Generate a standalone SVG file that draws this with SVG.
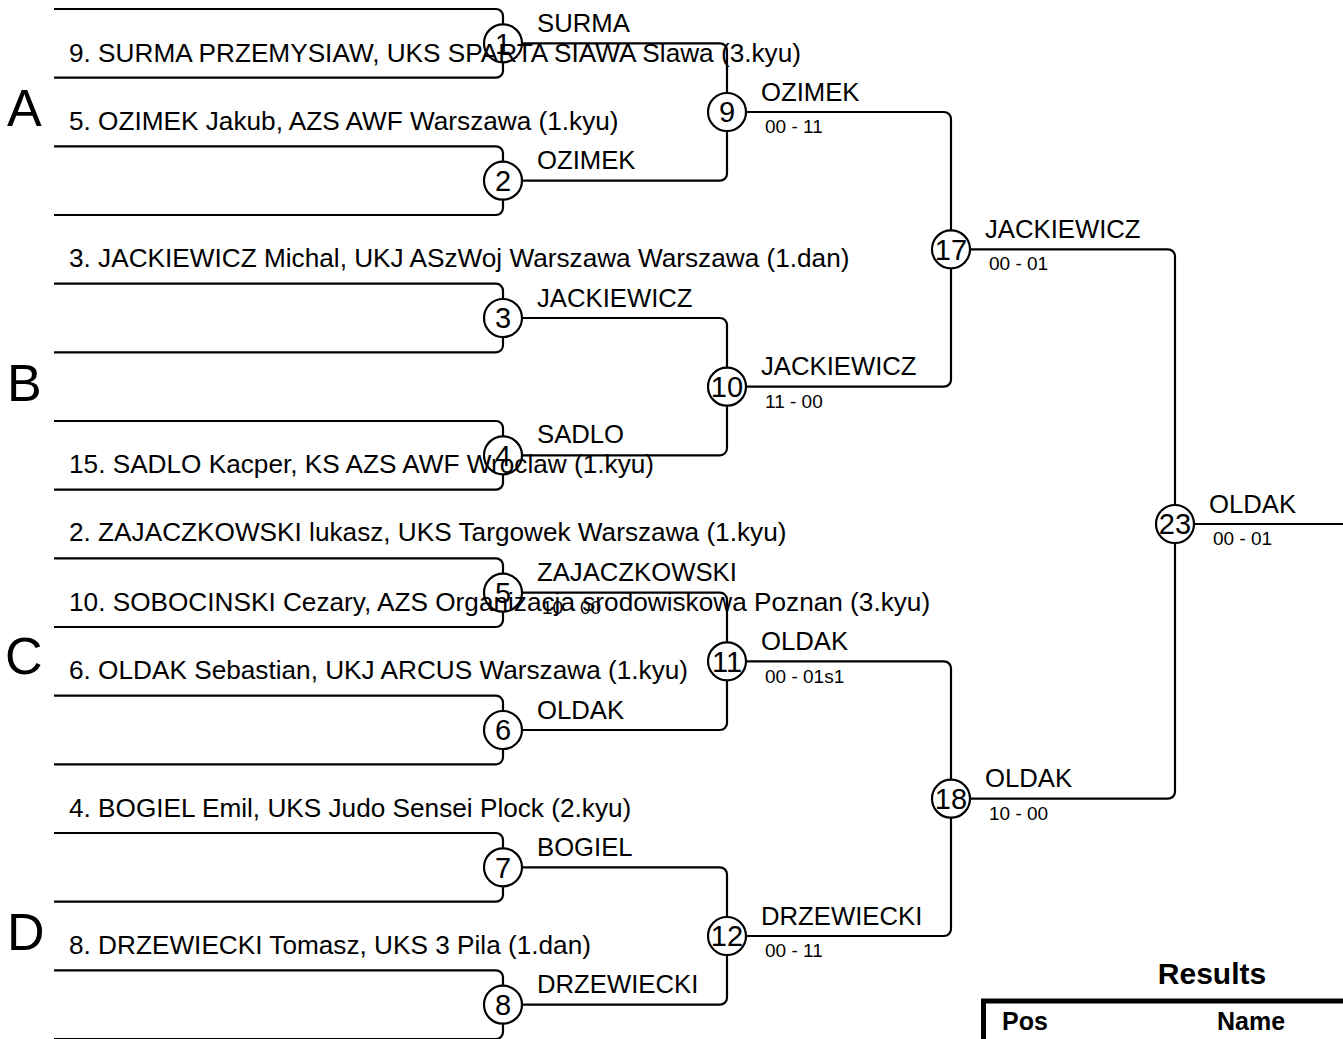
<svg xmlns="http://www.w3.org/2000/svg" width="1343" height="1039" viewBox="0 0 1343 1039">
<style>
.ln{fill:none;stroke:#000;stroke-width:2.2}
.nd{fill:#fff;stroke:#000;stroke-width:2.2}
text{font-family:"Liberation Sans",Arial,sans-serif;fill:#000}
.ent{font-size:26.2px}
.lab{font-size:25.7px}
.num{font-size:29px;text-anchor:middle}
.sc{font-size:19px}
.grp{font-size:52px}
.hd{font-size:30px;font-weight:bold;text-anchor:middle}
.th{font-size:25px;font-weight:bold}
</style>
<rect width="1343" height="1039" fill="#fff"/>
<g id="connectors">
<path class="ln" d="M54,9 H496 A7,7 0 0 1 503,16 V70.67 A7,7 0 0 1 496,77.67 H54"/>
<path class="ln" d="M54,146.33 H496 A7,7 0 0 1 503,153.33 V208 A7,7 0 0 1 496,215 H54"/>
<path class="ln" d="M54,283.67 H496 A7,7 0 0 1 503,290.67 V345.33 A7,7 0 0 1 496,352.33 H54"/>
<path class="ln" d="M54,421 H496 A7,7 0 0 1 503,428 V482.67 A7,7 0 0 1 496,489.67 H54"/>
<path class="ln" d="M54,558.33 H496 A7,7 0 0 1 503,565.33 V620 A7,7 0 0 1 496,627 H54"/>
<path class="ln" d="M54,695.67 H496 A7,7 0 0 1 503,702.67 V757.33 A7,7 0 0 1 496,764.33 H54"/>
<path class="ln" d="M54,833 H496 A7,7 0 0 1 503,840 V894.67 A7,7 0 0 1 496,901.67 H54"/>
<path class="ln" d="M54,970.33 H496 A7,7 0 0 1 503,977.33 V1032 A7,7 0 0 1 496,1039 H54"/>
<path class="ln" d="M522,43.33 H720 A7,7 0 0 1 727,50.33 V173.67 A7,7 0 0 1 720,180.67 H522"/>
<path class="ln" d="M522,318 H720 A7,7 0 0 1 727,325 V448.33 A7,7 0 0 1 720,455.33 H522"/>
<path class="ln" d="M522,592.67 H720 A7,7 0 0 1 727,599.67 V723 A7,7 0 0 1 720,730 H522"/>
<path class="ln" d="M522,867.33 H720 A7,7 0 0 1 727,874.33 V997.67 A7,7 0 0 1 720,1004.67 H522"/>
<path class="ln" d="M746,112 H944 A7,7 0 0 1 951,119 V379.67 A7,7 0 0 1 944,386.67 H746"/>
<path class="ln" d="M746,661.33 H944 A7,7 0 0 1 951,668.33 V929 A7,7 0 0 1 944,936 H746"/>
<path class="ln" d="M970,249.33 H1168 A7,7 0 0 1 1175,256.33 V791.67 A7,7 0 0 1 1168,798.67 H970"/>
<path class="ln" d="M1194,524 H1343"/>
</g>
<g id="m1"><circle class="nd" cx="503" cy="43.33" r="19"/><text class="num" x="503" y="53.6">1</text><text class="lab" x="537" y="31.8">SURMA</text></g>
<g id="m2"><circle class="nd" cx="503" cy="180.67" r="19"/><text class="num" x="503" y="191">2</text><text class="lab" x="537" y="169.2">OZIMEK</text></g>
<g id="m3"><circle class="nd" cx="503" cy="318" r="19"/><text class="num" x="503" y="328.3">3</text><text class="lab" x="537" y="306.5">JACKIEWICZ</text></g>
<g id="m4"><circle class="nd" cx="503" cy="455.33" r="19"/><text class="num" x="503" y="465.6">4</text><text class="lab" x="537" y="443.3">SADLO</text></g>
<g id="m5"><circle class="nd" cx="503" cy="592.67" r="19"/><text class="num" x="503" y="603">5</text><text class="lab" x="537" y="581.2">ZAJACZKOWSKI</text><text class="sc" x="542" y="613.7">10 - 00</text></g>
<g id="m6"><circle class="nd" cx="503" cy="730" r="19"/><text class="num" x="503" y="740.3">6</text><text class="lab" x="537" y="718.5">OLDAK</text></g>
<g id="m7"><circle class="nd" cx="503" cy="867.33" r="19"/><text class="num" x="503" y="877.6">7</text><text class="lab" x="537" y="855.8">BOGIEL</text></g>
<g id="m8"><circle class="nd" cx="503" cy="1004.67" r="19"/><text class="num" x="503" y="1015">8</text><text class="lab" x="537" y="993.2">DRZEWIECKI</text></g>
<g id="m9"><circle class="nd" cx="727" cy="112" r="19"/><text class="num" x="727" y="122.3">9</text><text class="lab" x="761" y="100.5">OZIMEK</text><text class="sc" x="765" y="133.3">00 - 11</text></g>
<g id="m10"><circle class="nd" cx="727" cy="386.67" r="19"/><text class="num" x="727" y="397">10</text><text class="lab" x="761" y="375.2">JACKIEWICZ</text><text class="sc" x="765" y="408">11 - 00</text></g>
<g id="m11"><circle class="nd" cx="727" cy="661.33" r="19"/><text class="num" x="727" y="671.6">11</text><text class="lab" x="761" y="649.8">OLDAK</text><text class="sc" x="765" y="682.6">00 - 01s1</text></g>
<g id="m12"><circle class="nd" cx="727" cy="936" r="19"/><text class="num" x="727" y="946.3">12</text><text class="lab" x="761" y="924.5">DRZEWIECKI</text><text class="sc" x="765" y="957.3">00 - 11</text></g>
<g id="m17"><circle class="nd" cx="951" cy="249.33" r="19"/><text class="num" x="951" y="259.6">17</text><text class="lab" x="985" y="237.8">JACKIEWICZ</text><text class="sc" x="989" y="270.3">00 - 01</text></g>
<g id="m18"><circle class="nd" cx="951" cy="798.67" r="19"/><text class="num" x="951" y="809">18</text><text class="lab" x="985" y="787.2">OLDAK</text><text class="sc" x="989" y="819.7">10 - 00</text></g>
<g id="m23"><circle class="nd" cx="1175" cy="524" r="19"/><text class="num" x="1175" y="534.3">23</text><text class="lab" x="1209" y="512.5">OLDAK</text><text class="sc" x="1213" y="544.5">00 - 01</text></g>
<g id="entries">
<text class="ent" x="69" y="61.5">9. SURMA PRZEMYSIAW, UKS SPARTA SIAWA Slawa (3.kyu)</text>
<text class="ent" x="69" y="129.5">5. OZIMEK Jakub, AZS AWF Warszawa (1.kyu)</text>
<text class="ent" x="69" y="267">3. JACKIEWICZ Michal, UKJ ASzWoj Warszawa Warszawa (1.dan)</text>
<text class="ent" x="69" y="472.5">15. SADLO Kacper, KS AZS AWF Wroclaw (1.kyu)</text>
<text class="ent" x="69" y="541">2. ZAJACZKOWSKI lukasz, UKS Targowek Warszawa (1.kyu)</text>
<text class="ent" x="69" y="610.5">10. SOBOCINSKI Cezary, AZS Organizacja srodowiskowa Poznan (3.kyu)</text>
<text class="ent" x="69" y="679.3">6. OLDAK Sebastian, UKJ ARCUS Warszawa (1.kyu)</text>
<text class="ent" x="69" y="816.5">4. BOGIEL Emil, UKS Judo Sensei Plock (2.kyu)</text>
<text class="ent" x="69" y="953.8">8. DRZEWIECKI Tomasz, UKS 3 Pila (1.dan)</text>
</g>
<g id="groups">
<text class="grp" x="7" y="126">A</text>
<text class="grp" x="7" y="400.7">B</text>
<text class="grp" x="5" y="673.5">C</text>
<text class="grp" x="7" y="950">D</text>
</g>
<g id="results">
<text class="hd" x="1212" y="984">Results</text>
<path d="M983.5,1039 V1001 H1343" fill="none" stroke="#000" stroke-width="5"/>
<text class="th" x="1002" y="1030">Pos</text>
<text class="th" x="1217" y="1030">Name</text>
</g>
</svg>
